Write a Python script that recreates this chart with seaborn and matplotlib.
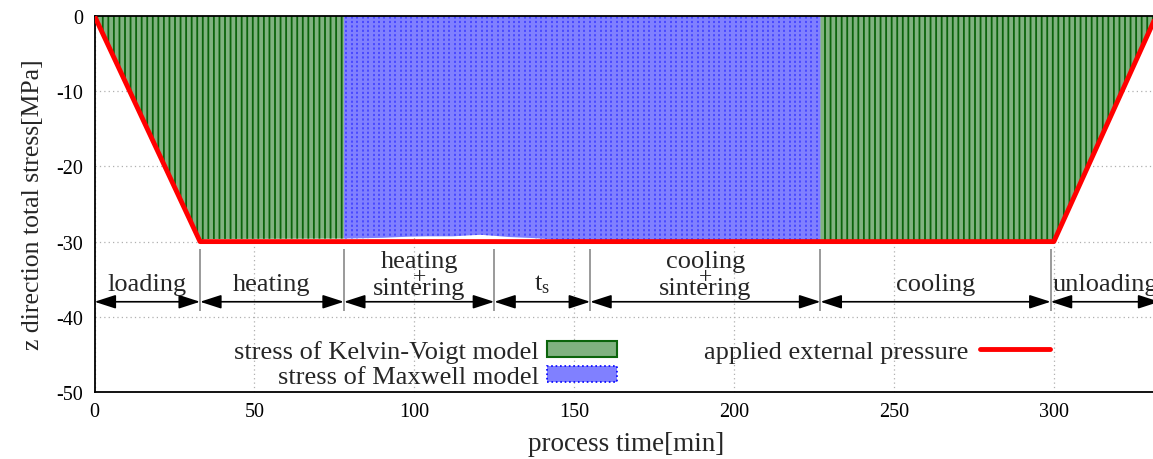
import numpy as np
import matplotlib
matplotlib.use("Agg")
import matplotlib.pyplot as plt
import seaborn as sns
from matplotlib.patches import Patch
from matplotlib.lines import Line2D

# Simulated total stress in z direction [MPa] over the process time [min]
time_min = [0, 33, 35, 78, 90, 98, 104, 112, 118, 121, 124, 130, 138, 146, 155, 227, 300, 332]
stress_mpa = [0, -29.8, -29.65, -29.6, -29.5, -29.35, -29.3, -29.3, -29.15, -29.1,
              -29.2, -29.4, -29.55, -29.8, -30.0, -30.0, -30.0, 0]

# Applied external pressure profile
pressure_time = [0, 33, 300, 332]
pressure_mpa = [0, -30, -30, 0]

# Process stages
stage_bounds = [0, 33, 78, 125, 155, 227, 299, 333]
stage_labels = ["loading", "heating", "heating\n+\nsintering", r"t$_\mathrm{s}$",
                "cooling\n+\nsintering", "cooling", "unloading"]
maxwell_span = (78, 227)

x_ticks = [0, 50, 100, 150, 200, 250, 300]
y_ticks = [0, -10, -20, -30, -40, -50]

green_fill = "#80b280"
green_line = "#0b640b"
blue_fill = "#8080ff"
blue_line = "#3a3aff"

sns.set_theme(style="white")
plt.rcParams["font.family"] = ["Liberation Serif", "DejaVu Serif"]
plt.rcParams["mathtext.fontset"] = "custom"
plt.rcParams["mathtext.rm"] = "Liberation Serif"
plt.rcParams["mathtext.it"] = "Liberation Serif:italic"
plt.rcParams["hatch.linewidth"] = 1.3

fig = plt.figure(figsize=(11.53, 4.60), dpi=100)
ax = fig.add_axes([94.5 / 1153, 1 - 393 / 460, 1 - 94.5 / 1153, (393 - 17) / 460])

t = np.array(time_min, dtype=float)
s = np.array(stress_mpa, dtype=float)
in_maxwell = (t >= maxwell_span[0]) & (t <= maxwell_span[1])

# Kelvin-Voigt part (vertical line pattern)
ax.fill_between(t, s, 0, where=(t <= maxwell_span[0]), facecolor=green_fill,
                edgecolor=green_line, hatch="|||", linewidth=0, zorder=1)
ax.fill_between(t, s, 0, where=(t >= maxwell_span[1]), facecolor=green_fill,
                edgecolor=green_line, hatch="|||", linewidth=0, zorder=1)

# Maxwell part (dotted vertical pattern)
mx = ax.fill_between(t, s, 0, where=in_maxwell, facecolor=blue_fill,
                     edgecolor="none", linewidth=0, zorder=1)
texture_x = np.arange(maxwell_span[0] + 0.8, maxwell_span[1], 1.69)
dots = ax.vlines(texture_x, -31, 1, colors=blue_line, linewidth=1.1,
                 linestyles=(0, (1.4, 1.5)), zorder=1.5)
dots.set_clip_path(mx.get_paths()[0], ax.transData)

# Applied external pressure
sns.lineplot(x=pressure_time, y=pressure_mpa, color="red", linewidth=3.5,
             ax=ax, zorder=3, sort=False)

# Stage separators, arrows and names
ax.vlines(stage_bounds[1:-1], -39.2, -31, colors="#7f7f7f", linewidth=1.1, zorder=2)
for a, b, name in zip(stage_bounds[:-1], stage_bounds[1:], stage_labels):
    ax.annotate("", xy=(b, -38), xytext=(a, -38),
                arrowprops=dict(arrowstyle="<|-|>,head_length=1.3,head_width=0.42",
                                color="black", lw=1.2, shrinkA=0, shrinkB=0,
                                mutation_scale=10),
                annotation_clip=False, zorder=4)
    mid = (a + b) / 2
    if "\n+\n" in name:
        top, bottom = name.split("\n+\n")
        ax.text(mid, -34.35, top + "\n" + bottom, ha="center", va="center",
                fontsize=19, linespacing=1.3, zorder=4)
        ax.text(mid, -34.65, "+", ha="center", va="center", fontsize=17, zorder=4)
    else:
        ax.text(mid, -35.6, name, ha="center", va="center", fontsize=19, zorder=4,
                clip_on=False)

ax.set_xlim(0, 331)
ax.set_ylim(-50, 0)
ax.set_xticks(x_ticks)
ax.set_yticks(y_ticks)
ax.set_xticklabels([str(v) for v in x_ticks])
ax.set_yticklabels([str(v) for v in y_ticks])
ax.tick_params(direction="in", length=6, width=1, labelsize=14.5, colors="black")
ax.tick_params(axis="x", pad=7)
ax.tick_params(axis="y", pad=8)
ax.grid(True, color="#b0b0b0", linestyle=(0, (1, 2.5)), linewidth=0.9)
ax.set_axisbelow(True)
for side in ["left", "bottom", "top"]:
    ax.spines[side].set_color("black")
    ax.spines[side].set_linewidth(1.3)
ax.spines["right"].set_visible(False)

ax.set_xlabel("process time[min]", fontsize=19.5)
ax.set_ylabel("z direction total stress[MPa]", fontsize=18.5)
ax.xaxis.set_label_coords((626.5 - 94.5) / 1058.5, -0.104)
ax.yaxis.set_label_coords(-0.048, 0.5)

# Legends
h_kv = Patch(facecolor=green_fill, edgecolor=green_line, linewidth=1.5,
             label="stress of Kelvin-Voigt model")
h_mx = Patch(facecolor=blue_fill, edgecolor="#0000ff", linewidth=1.2, linestyle=":",
             label="stress of Maxwell model")
leg1 = ax.legend(handles=[h_kv, h_mx], loc="upper right",
                 bbox_to_anchor=(617 / 1153, 1 - 341 / 460), bbox_transform=fig.transFigure,
                 markerfirst=False, frameon=False, fontsize=19, handlelength=2.65,
                 handleheight=0.55, handletextpad=0.3, labelspacing=0.1,
                 borderpad=0, borderaxespad=0)
ax.add_artist(leg1)
h_p = Line2D([], [], color="red", linewidth=3.5, label="applied external pressure")
ax.legend(handles=[h_p], loc="upper right",
          bbox_to_anchor=(1050 / 1153, 1 - 341 / 460), bbox_transform=fig.transFigure,
          markerfirst=False, frameon=False, fontsize=19, handlelength=2.65,
          handletextpad=0.45, borderpad=0, borderaxespad=0)

fig.savefig("out.png", dpi=100)
